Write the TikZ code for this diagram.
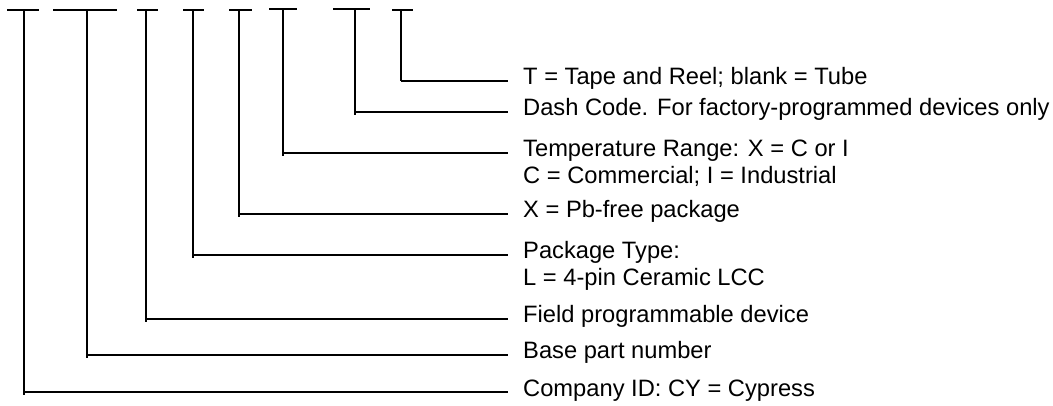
\documentclass[tikz,border=0pt]{standalone}
\usepackage{fontspec}
\setmainfont{Liberation Sans}
\begin{document}
\begin{tikzpicture}[x=1pt,y=-1pt,
  leader/.style={line width=2.6pt,line cap=butt},
  lbl/.style={anchor=base west,inner sep=0pt,align=left,
    font=\fontsize{23.7}{26.5}\selectfont}]
\useasboundingbox (0,0) rectangle (1053,406);
% bars: index/left/right/bar y/vertical x/horizontal y/overshoot
\foreach \i/\bl/\br/\by/\vx/\hy/\ov in {
  1/7/39/10/24/392/3,
  2/53/117/10/87/355/3,
  3/137/158/10/146/319/3,
  4/183/204/10/193/255/3,
  5/229/252/10/239/214/3,
  6/269/297/9/283/153/3,
  7/333/370/9/355/112/3,
  8/392/413/10/401/81/0}{
  \coordinate (bl\i) at (\bl,\by);
  \coordinate (br\i) at (\br,\by);
  \coordinate (t\i) at (\vx,\by);
  \coordinate (c\i) at (\vx,\hy);
  \coordinate (o\i) at (\vx,\hy+\ov);
  \coordinate (e\i) at (508,\hy);
}
% base anchor of a two-line node is the baseline of its last line
\node[lbl] (l1) at (523,396) {Company ID: CY = Cypress};
\node[lbl] (l2) at (523,359) {Base part number};
\node[lbl] (l3) at (523,323) {Field programmable device};
\node[lbl] (l4) at (523,285.5) {Package Type:\\L = 4-pin Ceramic LCC};
\node[lbl] (l5) at (523,218) {X = Pb-free package};
\node[lbl] (l6) at (523,183.5) {Temperature Range: X = C or I\\C = Commercial; I = Industrial};
\node[lbl] (l7) at (523,116) {Dash Code. For factory-programmed devices only};
\node[lbl] (l8) at (523,85) {T = Tape and Reel; blank = Tube};
\foreach \i in {1,...,8}{
  \draw[leader] (bl\i) -- (br\i);
  \draw[leader] (t\i) -- (o\i);
  \draw[leader] (c\i) -- (e\i);
}
\end{tikzpicture}
\end{document}
